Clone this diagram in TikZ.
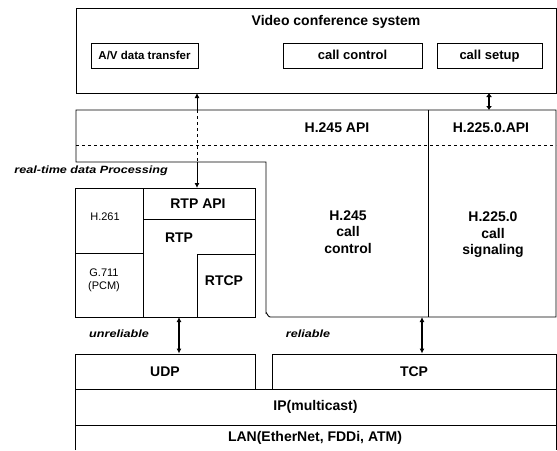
\documentclass[tikz,border=0pt]{standalone}
\usepackage{fontspec}
\setmainfont{Liberation Sans}
\newfontfamily\handfont[FakeStretch=1.2]{Liberation Sans}
\usetikzlibrary{arrows.meta}
\tikzset{
  lbl/.style={font=\fontsize{14}{16.5}\selectfont\bfseries, inner sep=0pt},
  small/.style={font=\fontsize{11}{13}\selectfont, inner sep=0pt, align=center},
  hand/.style={font=\fontsize{10.5}{12}\selectfont\handfont\bfseries\itshape, inner sep=0pt},
  box/.style={draw, rectangle, inner sep=0pt, font=\fontsize{14}{16}\selectfont\bfseries},
  topbox/.style={draw, rectangle, inner sep=0pt, text height=9.5pt, text depth=2.5pt, font=\fontsize{13}{15}\selectfont\bfseries},
  dbl/.style={{Latex[length=5pt,width=5pt]}-{Latex[length=5pt,width=5pt]}, line width=1.3pt},
}
\begin{document}
\begin{tikzpicture}[x=1pt,y=-1pt,line width=0.9pt]
\useasboundingbox (0,0) rectangle (557,450);
% top system box
\draw (76,8) rectangle (556,93);
\node[lbl] (title) at (336,22) {Video conference system};
\node[topbox, minimum width=107pt, minimum height=25pt, font=\fontsize{11.5}{13}\selectfont\bfseries] (av) at (144.5,55.5) {A/V data transfer};
\node[topbox, minimum width=139pt, minimum height=25pt] (cc) at (352.5,55.5) {call control};
\node[topbox, minimum width=105pt, minimum height=25pt] (cs) at (489.5,55.5) {call setup};
% API band + H.245 / H.225.0 regions
\draw (76,110) -- (556,110) -- (556,317) -- (270,317) to[out=180,in=90] (266,313) -- (266,162) -- (76,162) -- cycle;
\draw[dashed, line width=0.6pt] (76,145) -- (556,145);
\draw (428,110) -- (428,317);
\node[lbl] (h245api) at (337,128) {H.245 API};
\node[lbl] (h225api) at (491,128) {H.225.0.API};
\node[lbl, align=center] (h245) at (348,232) {H.245\\call\\control};
\node[lbl, align=center] (h225) at (493,235) {H.225.0\\call\\signaling};
% real-time data processing block
\node[hand, anchor=west] (rt) at (14,171) {real-time data Processing};
\draw (75,188) rectangle (255,317);
\draw (143,188) -- (143,317);
\draw (75,253) -- (143,253);
\draw (143,219) -- (255,219);
\draw (197,317) -- (197,254) -- (255,254);
\node[small] (h261) at (105,217) {H.261};
\node[small] (g711) at (104,280) {G.711\\(PCM)};
\node[lbl] (rtpapi) at (198,204) {RTP API};
\node[lbl] (rtp) at (179,238) {RTP};
\node[lbl] (rtcp) at (224,281) {RTCP};
% transport
\node[box, minimum width=180pt, minimum height=35pt] (udp) at (165,371.5) {UDP};
\node[box, minimum width=284pt, minimum height=35pt] (tcp) at (414,371.5) {TCP};
\node[box, minimum width=481pt, minimum height=36pt] (ip) at (315.5,407) {IP(multicast)};
\draw (75,450) -- (75,425) -- (556,425) -- (556,450);
\node[lbl] (lan) at (315,438) {LAN(EtherNet, FDDi, ATM)};
\node[hand] (unrel) at (119,334) {unreliable};
\node[hand] (rel) at (308,334) {reliable};
% connectors
\coordinate (a1) at (197,93);
\coordinate (a2) at (197,110);
\coordinate (a3) at (197,162);
\coordinate (a4) at (197,188);
\draw[{Latex[length=5pt,width=5pt]}-, line width=0.9pt] (a1) -- (a2);
\draw[dashed, line width=0.6pt] (a2) -- (a3);
\draw[-{Latex[length=5pt,width=5pt]}, line width=0.9pt] (a3) -- (a4);
\coordinate (s1) at (489,93);
\coordinate (s2) at (489,110);
\draw[{Latex[length=4pt,width=6pt]}-{Latex[length=4pt,width=6pt]}, line width=1.3pt] (s1) -- (s2);
\coordinate (u1) at (179,317);
\draw[dbl] (u1) -- (udp.north -| u1);
\coordinate (t1) at (422,317);
\draw[dbl] (t1) -- (tcp.north -| t1);
\end{tikzpicture}
\end{document}
